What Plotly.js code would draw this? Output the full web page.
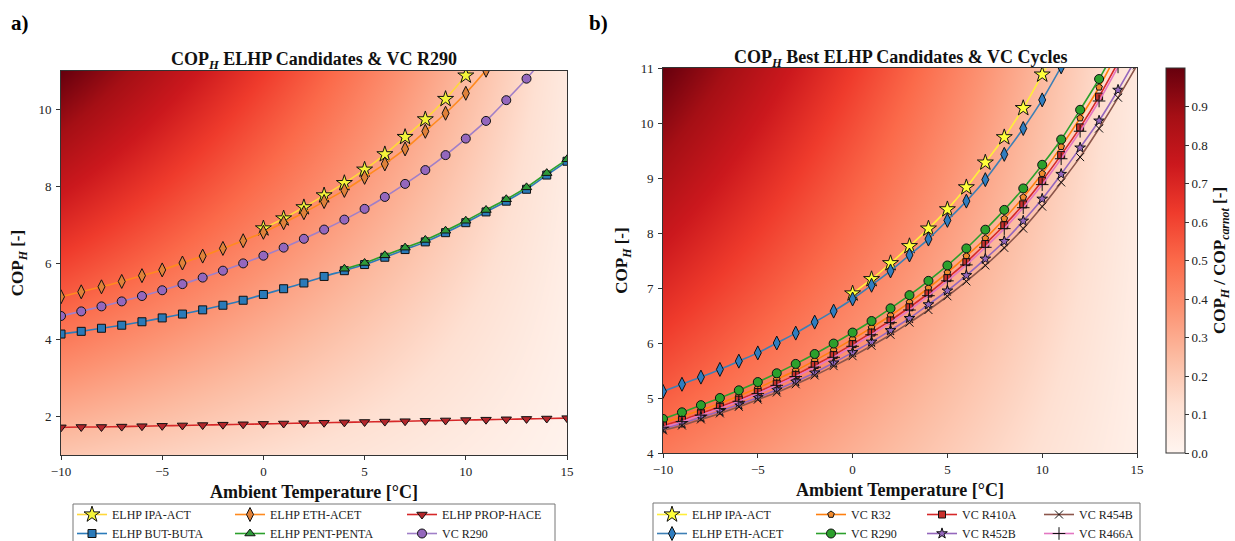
<!DOCTYPE html>
<html>
<head>
<meta charset="utf-8">
<script src="https://cdn.plot.ly/plotly-3.0.1.min.js"></script>
<style>
html,body{margin:0;padding:0;background:#fff;}
#chart{width:1235px;height:541px;}
</style>
</head>
<body>
<div id="chart"></div>
<script>
// ---------- data ----------
const tempC = [-10,-9,-8,-7,-6,-5,-4,-3,-2,-1,0,1,2,3,4,5,6,7,8,9,10,11,12,13,14,15];

// ELHP candidates
const ipaActT = [0,1,2,3,4,5,6,7,8,9,10,11];
const ipaAct  = [6.90,7.16,7.45,7.76,8.08,8.43,8.83,9.28,9.74,10.27,10.88,11.50];

const ethAcetT = [-10,-9,-8,-7,-6,-5,-4,-3,-2,-1,0,1,2,3,4,5,6,7,8,9,10,11,12];
const ethAcet  = [5.12,5.25,5.38,5.52,5.67,5.82,6.00,6.18,6.38,6.58,6.80,7.05,7.31,7.60,7.89,8.23,8.58,8.97,9.43,9.90,10.42,11.02,11.65];

const propHace = [1.72,1.73,1.73,1.74,1.75,1.76,1.77,1.78,1.79,1.80,1.81,1.82,1.83,1.84,1.85,1.86,1.87,1.88,1.89,1.90,1.91,1.92,1.93,1.94,1.95,1.96];

const butButa  = [4.15,4.22,4.30,4.38,4.47,4.57,4.67,4.78,4.90,5.03,5.18,5.33,5.48,5.65,5.80,5.96,6.15,6.35,6.55,6.79,7.05,7.33,7.61,7.92,8.29,8.65];

const pentPentaT = [4,5,6,7,8,9,10,11,12,13,14,15];
const pentPenta  = [5.85,6.00,6.20,6.40,6.60,6.84,7.10,7.38,7.66,7.97,8.34,8.70];

// Vapour-compression cycles
const vcT = [-10,-9,-8,-7,-6,-5,-4,-3,-2,-1,0,1,2,3,4,5,6,7,8,9,10,11,12,13,14];
const vcR290  = [4.62,4.74,4.87,5.00,5.14,5.29,5.45,5.62,5.80,5.99,6.19,6.40,6.63,6.87,7.13,7.41,7.72,8.06,8.42,8.81,9.24,9.70,10.24,10.80,11.42];
const vcR32   = [4.55,4.66,4.78,4.90,5.04,5.18,5.34,5.50,5.68,5.87,6.07,6.28,6.50,6.74,7.00,7.28,7.58,7.90,8.26,8.65,9.08,9.57,10.09,10.65,11.30];
const vcR410A = [4.50,4.60,4.72,4.84,4.97,5.11,5.26,5.42,5.60,5.78,5.98,6.19,6.41,6.65,6.90,7.18,7.47,7.80,8.14,8.52,8.95,9.42,9.92,10.48,11.10];
const vcR466A = [4.47,4.57,4.69,4.81,4.94,5.08,5.23,5.39,5.56,5.74,5.94,6.15,6.37,6.60,6.86,7.13,7.42,7.74,8.08,8.46,8.88,9.35,9.85,10.40,11.02];
const vcR452B = [4.44,4.54,4.65,4.76,4.88,5.01,5.15,5.30,5.46,5.64,5.83,6.02,6.23,6.45,6.70,6.95,7.23,7.53,7.85,8.22,8.62,9.07,9.55,10.04,10.60,11.20];
const vcR454B = [4.41,4.50,4.61,4.72,4.84,4.97,5.10,5.25,5.41,5.58,5.76,5.95,6.15,6.37,6.60,6.85,7.12,7.41,7.73,8.08,8.48,8.92,9.38,9.90,10.46,11.05];

// Background field COP_H / COP_carnot (corner values read from the colour field)
const heatT = [-11, 16];
const heatCOP = [0, 12];
const heatRatio = [[0.14, 0.004], [1.12, 0.036]];

// colour-bar ticks
const cbarTicks = [0.0,0.1,0.2,0.3,0.4,0.5,0.6,0.7,0.8,0.9];
const cbarText = ['0.0','0.1','0.2','0.3','0.4','0.5','0.6','0.7','0.8','0.9'];

// ---------- styling ----------
const FONT = 'Liberation Serif, Times New Roman, serif';
const redsScale = [
  [0.0,'#fff5f0'],[0.125,'#fee0d2'],[0.25,'#fcbba1'],[0.375,'#fc9272'],
  [0.5,'#fb6a4a'],[0.625,'#ef3b2c'],[0.75,'#cb181d'],[0.875,'#a50f15'],[1.0,'#67000d']
];

function series(x, y, name, xa, ya, legend, lineColor, symbol, fill, size, edge) {
  return {
    type: 'scatter', mode: 'lines+markers', x: x, y: y, name: name,
    xaxis: xa, yaxis: ya, legend: legend,
    line: {color: lineColor, width: 1.6, shape: 'spline', smoothing: 0.8},
    marker: {symbol: symbol, color: fill, size: size,
             line: {color: edge || '#111', width: 1}},
    cliponaxis: true, hoverinfo: 'x+y+name'
  };
}

const traces = [];
// background heatmaps
traces.push({type:'heatmap', x: heatT, y: heatCOP, z: heatRatio, xaxis:'x', yaxis:'y',
  colorscale: redsScale, zmin: 0, zmax: 1, zsmooth: 'best', showscale: false, hoverinfo:'skip'});
traces.push({type:'heatmap', x: heatT, y: heatCOP, z: heatRatio, xaxis:'x2', yaxis:'y2',
  colorscale: redsScale, zmin: 0, zmax: 1, zsmooth: 'best', hoverinfo:'skip',
  colorbar: {
    x: 1166/1235, xanchor: 'left', xpad: 0, ypad: 0,
    y: 1-453/541, yanchor: 'bottom', len: (453-68)/541, lenmode: 'fraction',
    thickness: 19, thicknessmode: 'pixels',
    outlinewidth: 1, outlinecolor: '#333',
    tickvals: cbarTicks, ticktext: cbarText, ticks: 'outside', ticklen: 4, tickcolor: '#333',
    tickfont: {family: FONT, size: 13, color: '#222'},
    title: {text: '<b>COP<sub><i>H</i></sub> / COP<sub><i>carnot</i></sub> [-]</b>', side: 'right',
            font: {family: FONT, size: 17, color: '#111'}}
  }});

// panel a)
traces.push(series(ipaActT, ipaAct, 'ELHP IPA-ACT', 'x', 'y', 'legend', '#ffd83a', 'star', '#f4f43a', 12));
traces.push(series(tempC, butButa, 'ELHP BUT-BUTA', 'x', 'y', 'legend', '#2b7bba', 'square', '#2a7ab9', 8));
traces.push(series(ethAcetT, ethAcet, 'ELHP ETH-ACET', 'x', 'y', 'legend2', '#ff8a1e', 'diamond-tall', '#e0813a', 10));
traces.push(series(pentPentaT, pentPenta, 'ELHP PENT-PENTA', 'x', 'y', 'legend2', '#2ca02c', 'triangle-up', '#2e9a3a', 9));
traces.push(series(tempC, propHace, 'ELHP PROP-HACE', 'x', 'y', 'legend3', '#d62728', 'triangle-down', '#b3262b', 9));
traces.push(series(vcT, vcR290, 'VC R290', 'x', 'y', 'legend3', '#a07fc8', 'circle', '#9467bd', 9));

// panel b)
traces.push(series(ipaActT, ipaAct, 'ELHP IPA-ACT', 'x2', 'y2', 'legend4', '#ffee3a', 'star', '#ffff3a', 12));
traces.push(series(ethAcetT, ethAcet, 'ELHP ETH-ACET', 'x2', 'y2', 'legend4', '#3d7fb5', 'diamond-tall', '#2f7dc0', 10));
traces.push(series(vcT, vcR32, 'VC R32', 'x2', 'y2', 'legend5', '#ff7f0e', 'pentagon', '#f08a2e', 7));
traces.push(series(vcT, vcR290, 'VC R290', 'x2', 'y2', 'legend5', '#2ca02c', 'circle', '#2ca02c', 9));
traces.push(series(vcT, vcR410A, 'VC R410A', 'x2', 'y2', 'legend6', '#d62728', 'square', '#c9302c', 7));
traces.push(series(tempC, vcR452B, 'VC R452B', 'x2', 'y2', 'legend6', '#9467bd', 'star', '#9467bd', 8));
traces.push(series(tempC, vcR454B, 'VC R454B', 'x2', 'y2', 'legend7', '#8c564b', 'x-thin-open', '#111', 8, '#111'));
traces.push(series(vcT, vcR466A, 'VC R466A', 'x2', 'y2', 'legend7', '#e377c2', 'cross-thin-open', '#111', 9, '#111'));

// ---------- layout ----------
const tickFont = {family: FONT, size: 13, color: '#222'};
const axTitleFont = {family: FONT, size: 18, color: '#111'};
function xAxis(domain, anchor) {
  return {domain: domain, anchor: anchor, range: [-10, 15], tickvals: [-10,-5,0,5,10,15],
    ticks: 'outside', ticklen: 4, tickcolor: '#333', ticklabelstandoff: 0, showline: true, mirror: true,
    linecolor: '#333', linewidth: 1, showgrid: false, zeroline: false, tickfont: tickFont,
    title: {text: '<b>Ambient Temperature [°C]</b>', font: axTitleFont, standoff: 7}};
}
function yAxis(domain, anchor, range, tickvals, standoff) {
  return {domain: domain, anchor: anchor, range: range, tickvals: tickvals,
    ticks: 'outside', ticklen: 4, tickcolor: '#333', ticklabelstandoff: 2, showline: true, mirror: true,
    linecolor: '#333', linewidth: 1, showgrid: false, zeroline: false, tickfont: tickFont,
    title: {text: '<b>COP<sub><i>H</i></sub> [-]</b>', font: {family: FONT, size: 17, color: '#111'}, standoff: standoff}};
}
function legendAt(px) {
  return {x: px/1235, xanchor: 'left', y: 1-500/541, yanchor: 'top', orientation: 'v',
    bgcolor: 'rgba(0,0,0,0)', borderwidth: 0, font: {family: FONT, size: 12, color: '#222'},
    itemwidth: 30, tracegroupgap: 0};
}

const layout = {
  width: 1235, height: 541, margin: {l: 0, r: 0, t: 0, b: 0, autoexpand: false},
  paper_bgcolor: '#fff', plot_bgcolor: '#fff',
  font: {family: FONT, color: '#111'},
  xaxis: xAxis([61/1235, 567/1235], 'y'),
  yaxis: yAxis([1-455/541, 1-71/541], 'x', [1, 11], [2,4,6,8,10], 10),
  xaxis2: xAxis([663/1235, 1137/1235], 'y2'),
  yaxis2: yAxis([1-453/541, 1-68/541], 'x2', [4, 11], [4,5,6,7,8,9,10,11], 8),
  showlegend: true,
  legend: legendAt(72), legend2: legendAt(230), legend3: legendAt(402),
  legend4: legendAt(652), legend5: legendAt(811), legend6: legendAt(922), legend7: legendAt(1039),
  shapes: [
    {type: 'rect', xref: 'paper', yref: 'paper', x0: 73/1235, x1: 555/1235, y0: -0.05, y1: 1-504/541,
     line: {color: '#777', width: 1}, fillcolor: 'rgba(0,0,0,0)'},
    {type: 'rect', xref: 'paper', yref: 'paper', x0: 653/1235, x1: 1140/1235, y0: -0.05, y1: 1-503/541,
     line: {color: '#777', width: 1}, fillcolor: 'rgba(0,0,0,0)'}
  ],
  annotations: [
    {text: '<b>a)</b>', xref: 'paper', yref: 'paper', x: 9/1235, y: 1-23/541, xanchor: 'left', yanchor: 'middle',
     showarrow: false, font: {family: FONT, size: 21, color: '#000'}},
    {text: '<b>b)</b>', xref: 'paper', yref: 'paper', x: 587/1235, y: 1-23/541, xanchor: 'left', yanchor: 'middle',
     showarrow: false, font: {family: FONT, size: 21, color: '#000'}},
    {text: '<b>COP<sub><i>H</i></sub> ELHP Candidates &amp; VC R290</b>', xref: 'paper', yref: 'paper',
     x: 314/1235, y: 1-61/541, xanchor: 'center', yanchor: 'middle', showarrow: false,
     font: {family: FONT, size: 18, color: '#111'}},
    {text: '<b>COP<sub><i>H</i></sub> Best ELHP Candidates &amp; VC Cycles</b>', xref: 'paper', yref: 'paper',
     x: 900/1235, y: 1-58/541, xanchor: 'center', yanchor: 'middle', showarrow: false,
     font: {family: FONT, size: 18, color: '#111'}}
  ]
};

Plotly.newPlot('chart', traces, layout, {staticPlot: true, displayModeBar: false});
</script>
</body>
</html>
